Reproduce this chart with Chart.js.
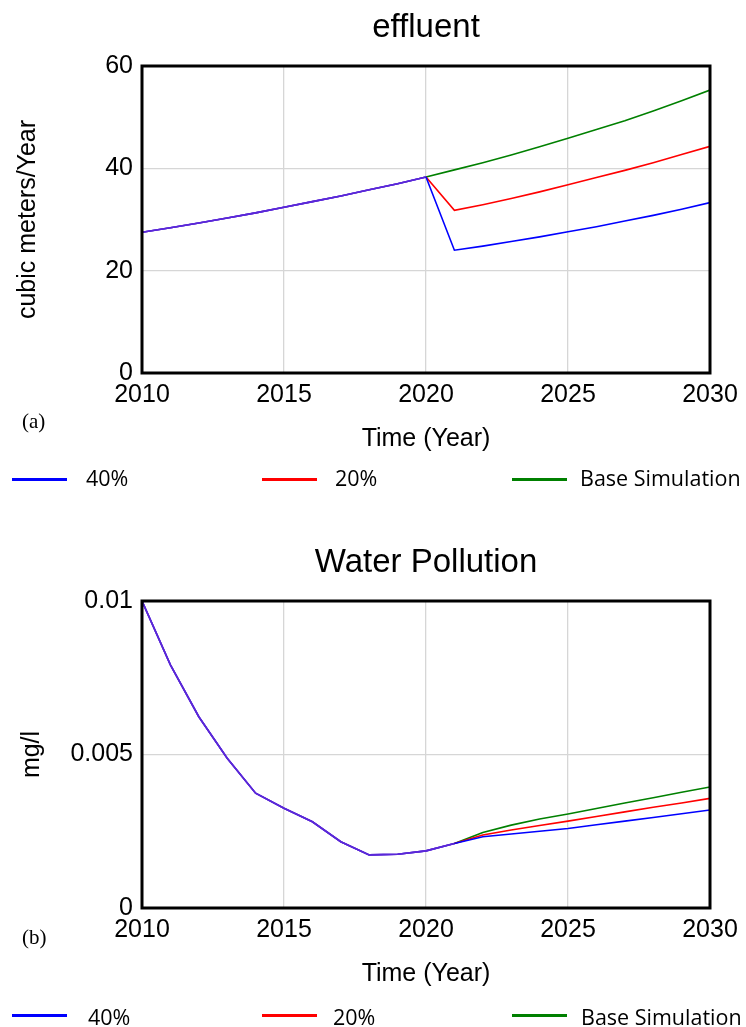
<!DOCTYPE html>
<html>
<head>
<meta charset="utf-8">
<script src="https://cdn.jsdelivr.net/npm/chart.js@4"></script>
<style>
  body{margin:0;background:#fff;width:746px;height:1027px;position:relative;overflow:hidden;}
  .box{position:absolute;left:0;width:746px;}
  .tag{position:absolute;font-family:"Liberation Serif","DejaVu Serif",serif;font-size:21px;color:#000;}
  .leg{position:absolute;height:3px;width:55px;}
  .legtxt{position:absolute;font-family:"Open Sans","Noto Sans",sans-serif;font-size:21.5px;color:#000;line-height:24px;}
</style>
</head>
<body>
<div class="box" style="top:0;height:470px"><canvas id="effluent"></canvas></div>
<div class="box" style="top:530px;height:475px"><canvas id="pollution"></canvas></div>

<div class="tag" style="left:22px;top:409px">(a)</div>
<div class="tag" style="left:22px;top:925px">(b)</div>

<div class="leg" style="left:12px;top:478px;background:#0000ff"></div>
<div class="legtxt" style="left:86px;top:466px">40%</div>
<div class="leg" style="left:262px;top:478px;background:#ff0000"></div>
<div class="legtxt" style="left:335px;top:466px">20%</div>
<div class="leg" style="left:512px;top:478px;background:#008000"></div>
<div class="legtxt" style="left:580px;top:466px">Base Simulation</div>

<div class="leg" style="left:12px;top:1014px;background:#0000ff"></div>
<div class="legtxt" style="left:88px;top:1005px">40%</div>
<div class="leg" style="left:262px;top:1014px;background:#ff0000"></div>
<div class="legtxt" style="left:333px;top:1005px">20%</div>
<div class="leg" style="left:512px;top:1014px;background:#008000"></div>
<div class="legtxt" style="left:581px;top:1005px">Base Simulation</div>

<script>
// years on the time axis
var years=[2010,2011,2012,2013,2014,2015,2016,2017,2018,2019,2020,2021,2022,2023,2024,2025,2026,2027,2028,2029,2030];
var seriesNames=['40%','20%','Base Simulation'];

// effluent (cubic meters/Year)
var eff40  =[27.5,28.4,29.3,30.3,31.3,32.4,33.5,34.6,35.8,37.0,38.3,24.0,24.8,25.7,26.6,27.6,28.6,29.7,30.8,32.0,33.3];
var eff20  =[27.5,28.4,29.3,30.3,31.3,32.4,33.5,34.6,35.8,37.0,38.3,31.8,32.9,34.1,35.4,36.8,38.2,39.6,41.1,42.7,44.3];
var effBase=[27.5,28.4,29.3,30.3,31.3,32.4,33.5,34.6,35.8,37.0,38.3,39.7,41.1,42.6,44.2,45.9,47.6,49.3,51.2,53.2,55.3];

// water pollution (mg/l)
var pol40  =[0.0100,0.00792,0.00623,0.00488,0.00374,0.00325,0.00281,0.00216,0.00173,0.00175,0.00186,0.00210,0.00232,0.00241,0.00250,0.00259,0.00271,0.00283,0.00295,0.00307,0.00319];
var pol20  =[0.0100,0.00792,0.00623,0.00488,0.00374,0.00325,0.00281,0.00216,0.00173,0.00175,0.00186,0.00210,0.00238,0.00254,0.00269,0.00283,0.00298,0.00313,0.00328,0.00342,0.00357];
var polBase=[0.0100,0.00792,0.00623,0.00488,0.00374,0.00325,0.00281,0.00216,0.00173,0.00175,0.00186,0.00210,0.00246,0.00270,0.00290,0.00306,0.00324,0.00342,0.00359,0.00377,0.00394];

var effTicks=['0','20','40','60'];
var polTicks=['0','0.005','0.01'];

var colors=['#0000ff','#ff0000','#008000'];
var overlap='#5a28d8';
var axisFont={family:'"Liberation Sans", Arial, sans-serif',size:25};

// black frame round the plot area + title centred over the plot
var frame={
  id:'frame',
  afterDraw:function(chart,args,opts){
    var a=chart.chartArea, c=chart.ctx;
    c.save();
    c.strokeStyle='#000';
    c.lineWidth=3;
    c.strokeRect(a.left,a.top,a.right-a.left,a.bottom-a.top);
    c.fillStyle='#000';
    c.font='33px "Liberation Sans", Arial, sans-serif';
    c.textAlign='center';
    c.textBaseline='middle';
    c.fillText(opts.text,(a.left+a.right)/2,opts.y);
    c.restore();
  }
};

function makeSets(list,sharedUntil){
  return list.map(function(vals,i){
    return {
      label:seriesNames[i],
      data:years.map(function(y,k){return {x:y,y:vals[k]};}),
      borderColor:colors[i],
      borderWidth:1.6,
      pointRadius:0,
      tension:0,
      segment:{borderColor:function(ctx){return ctx.p1DataIndex<=sharedUntil?overlap:undefined;}}
    };
  });
}

function makeChart(id,title,yTitle,sets,yMax,yStep,tickLabels,top,titleY,yTitlePad){
  return new Chart(document.getElementById(id).getContext('2d'),{
    type:'line',
    data:{datasets:sets},
    options:{
      responsive:true,
      maintainAspectRatio:false,
      animation:false,
      layout:{padding:{left:0,right:36,top:top,bottom:0}},
      plugins:{
        legend:{display:false},
        tooltip:{enabled:false},
        frame:{text:title,y:titleY}
      },
      scales:{
        x:{
          type:'linear',min:2010,max:2030,
          afterFit:function(s){s.height=97;},
          ticks:{stepSize:5,color:'#000',font:axisFont,padding:7,maxRotation:0,
            callback:function(v){return String(v);}},
          grid:{color:'#d6d6d6',lineWidth:1.3,drawTicks:false},
          border:{display:false},
          title:{display:true,text:'Time (Year)',color:'#000',font:axisFont,padding:{top:0,bottom:16}}
        },
        y:{
          min:0,max:yMax,
          afterFit:function(s){s.width=142;},
          ticks:{stepSize:yStep,color:'#000',font:axisFont,padding:9,
            callback:function(v,i){return tickLabels[i];}},
          grid:{color:'#d6d6d6',lineWidth:1.3,drawTicks:false},
          border:{display:false},
          title:{display:true,text:yTitle,color:'#000',font:axisFont,padding:{top:yTitlePad,bottom:0}}
        }
      }
    },
    plugins:[frame]
  });
}

makeChart('effluent','effluent','cubic meters/Year',makeSets([eff40,eff20,effBase],10),60,20,effTicks,66,28,13);
makeChart('pollution','Water Pollution','mg/l',makeSets([pol40,pol20,polBase],11),0.01,0.005,polTicks,71,33,17);
</script>
</body>
</html>
